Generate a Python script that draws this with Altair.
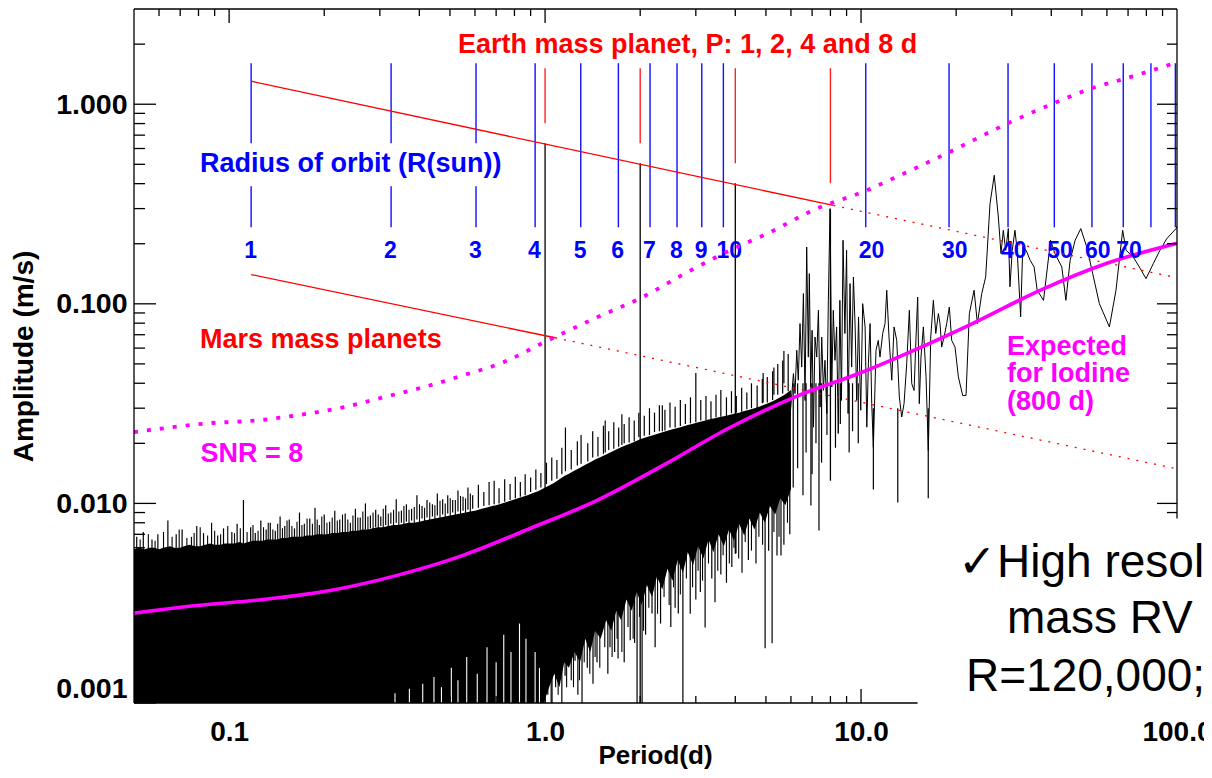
import altair as alt
import pandas as pd

FONT = "Liberation Sans"
W, H = 1043, 694
X_DOMAIN = [0.05, 100]
Y_DOMAIN = [0.001, 3.0]

# ---------------- dense periodogram band (0.05 - 6 d) ----------------
noise_P = [0.050, 0.052, 0.054, 0.056, 0.058, 0.060, 0.062, 0.065, 0.067, 0.070,
           0.072, 0.075, 0.078, 0.081, 0.084, 0.087, 0.090, 0.094, 0.097, 0.100,
           0.104, 0.108, 0.111, 0.115, 0.119, 0.123, 0.128, 0.132, 0.137, 0.142,
           0.147, 0.152, 0.158, 0.164, 0.170, 0.176, 0.183, 0.190, 0.197, 0.204,
           0.212, 0.220, 0.228, 0.237, 0.246, 0.255, 0.265, 0.275, 0.285, 0.296,
           0.307, 0.319, 0.331, 0.344, 0.357, 0.371, 0.385, 0.400, 0.415, 0.431,
           0.448, 0.465, 0.483, 0.50, 0.52, 0.54, 0.56, 0.58, 0.60, 0.63,
           0.65, 0.68, 0.70, 0.73, 0.76, 0.79, 0.82, 0.85, 0.88, 0.92,
           0.95, 0.99, 1.03, 1.07, 1.11, 1.15, 1.19, 1.24, 1.29, 1.34,
           1.39, 1.44, 1.50, 1.56, 1.62, 1.68, 1.74, 1.81, 1.88, 1.95,
           2.02, 2.10, 2.18, 2.26, 2.35, 2.44, 2.53, 2.63, 2.73, 2.83,
           2.94, 3.05, 3.17, 3.29, 3.41, 3.54, 3.68, 3.82, 3.96, 4.11,
           4.27, 4.43, 4.60, 4.78, 4.96, 5.15, 5.35, 5.55, 5.76, 6.00]
noise_hi = [0.0059, 0.0060, 0.0059, 0.0060, 0.0060, 0.0059, 0.0060, 0.0061, 0.0060, 0.0060,
            0.0061, 0.0062, 0.0061, 0.0061, 0.0062, 0.0063, 0.0062, 0.0062, 0.0063, 0.0063,
            0.0063, 0.0064, 0.0063, 0.0064, 0.0065, 0.0065, 0.0065, 0.0066, 0.0066, 0.0066,
            0.0067, 0.0067, 0.0068, 0.0068, 0.0068, 0.0069, 0.0069, 0.0070, 0.0070, 0.0070,
            0.0071, 0.0071, 0.0072, 0.0072, 0.0073, 0.0073, 0.0074, 0.0074, 0.0075, 0.0076,
            0.0076, 0.0077, 0.0078, 0.0078, 0.0079, 0.0080, 0.0080, 0.0081, 0.0082, 0.0083,
            0.0084, 0.0085, 0.0086, 0.0087, 0.0088, 0.0089, 0.0090, 0.0091, 0.0092, 0.0094,
            0.0095, 0.0097, 0.0098, 0.0100, 0.0102, 0.0104, 0.0106, 0.0108, 0.0110, 0.0113,
            0.0115, 0.0119, 0.0123, 0.0127, 0.0132, 0.0137, 0.0141, 0.0146, 0.0151, 0.0156,
            0.0161, 0.0166, 0.0171, 0.0176, 0.0181, 0.0186, 0.0191, 0.0196, 0.0201, 0.0206,
            0.0211, 0.0215, 0.0219, 0.0223, 0.0227, 0.0231, 0.0235, 0.0239, 0.0243, 0.0247,
            0.0251, 0.0255, 0.0259, 0.0263, 0.0266, 0.0270, 0.0273, 0.0277, 0.0281, 0.0285,
            0.0290, 0.0295, 0.0300, 0.0306, 0.0313, 0.0320, 0.0330, 0.0340, 0.0352, 0.0370]
noise_lo = [0.001] * 82 + [
            0.0012, 0.0014, 0.0012, 0.0016, 0.0015, 0.0018, 0.0016, 0.0021,
            0.0018, 0.0023, 0.0021, 0.0026, 0.0023, 0.0029, 0.0026, 0.0033, 0.0029, 0.0036,
            0.0031, 0.0039, 0.0034, 0.0043, 0.0037, 0.0047, 0.0041, 0.0052, 0.0045, 0.0057,
            0.0049, 0.0061, 0.0053, 0.0066, 0.0057, 0.0070, 0.0061, 0.0074, 0.0065, 0.0079,
            0.0069, 0.0084, 0.0074, 0.0090, 0.0080, 0.0097, 0.0088, 0.0106, 0.0098, 0.0118]

# hair-line spikes rising above the dense band (period, foot, tip)
up_P = [0.051, 0.0535, 0.057, 0.0595, 0.064, 0.068, 0.071, 0.076, 0.079, 0.083,
        0.088, 0.092, 0.096, 0.102, 0.106, 0.111, 0.117, 0.121, 0.126, 0.131,
        0.135, 0.140, 0.145, 0.150, 0.155, 0.161, 0.167, 0.173, 0.180, 0.187,
        0.193, 0.200, 0.208, 0.216, 0.224, 0.233, 0.242, 0.251, 0.260, 0.270,
        0.280, 0.291, 0.302, 0.313, 0.325, 0.338, 0.351, 0.364, 0.378, 0.393,
        0.408, 0.423, 0.440, 0.456, 0.474, 0.492, 0.51, 0.53, 0.55, 0.57,
        0.59, 0.615, 0.64, 0.665, 0.69, 0.715, 0.745, 0.775, 0.805, 0.835,
        0.865, 0.90, 0.935, 0.97, 1.01, 1.05, 1.09, 1.13, 1.16, 1.21,
        1.265, 1.30, 1.365, 1.415, 1.47, 1.53, 1.55, 1.59, 1.65, 1.71,
        1.75, 1.78, 1.845, 1.915, 1.98, 2.06, 2.14, 2.22, 2.30, 2.35,
        2.395, 2.485, 2.58, 2.68, 2.78, 2.885, 3.0, 3.11, 3.23, 3.35,
        3.475, 3.6, 3.75, 3.89, 4.03, 4.19, 4.35, 4.5, 4.69, 4.87,
        4.9, 5.05, 5.25, 5.3, 5.45, 5.65, 5.7, 5.88]
up_lo = [0.0058, 0.0058, 0.0058, 0.0058, 0.0060, 0.0060, 0.0060, 0.0060, 0.0060, 0.0060,
         0.0061, 0.0061, 0.0061, 0.0062, 0.0062, 0.0062, 0.0063, 0.0063, 0.0063, 0.0064,
         0.0064, 0.0065, 0.0065, 0.0066, 0.0066, 0.0067, 0.0067, 0.0068, 0.0068, 0.0069,
         0.0069, 0.0070, 0.0070, 0.0071, 0.0071, 0.0072, 0.0072, 0.0073, 0.0073, 0.0074,
         0.0075, 0.0076, 0.0077, 0.0078, 0.0079, 0.0080, 0.0080, 0.0081, 0.0082, 0.0083,
         0.0084, 0.0085, 0.0086, 0.0087, 0.0088, 0.0089, 0.0090, 0.0091, 0.0092, 0.0093,
         0.0094, 0.0095, 0.0097, 0.0098, 0.0099, 0.0100, 0.0102, 0.0104, 0.0106, 0.0108,
         0.0110, 0.0114, 0.0117, 0.0120, 0.0125, 0.0130, 0.0133, 0.0140, 0.0145, 0.0148,
         0.0155, 0.0158, 0.0162, 0.0170, 0.0172, 0.0177, 0.0180, 0.0185, 0.0188, 0.0192,
         0.0196, 0.0200, 0.0202, 0.0205, 0.0215, 0.0218, 0.0220, 0.0228, 0.0230, 0.0230,
         0.0232, 0.0240, 0.0240, 0.0244, 0.0250, 0.0252, 0.0255, 0.0260, 0.0262, 0.0264,
         0.0270, 0.0272, 0.0272, 0.0283, 0.0285, 0.0288, 0.0296, 0.0300, 0.0300, 0.0318,
         0.0320, 0.0320, 0.0330, 0.0350, 0.0350, 0.0355, 0.0400, 0.0365]
up_hi = [0.0068, 0.0072, 0.0066, 0.0070, 0.0082, 0.0070, 0.0074, 0.0068, 0.0077, 0.0071,
         0.0080, 0.0069, 0.0075, 0.0072, 0.0079, 0.0104, 0.0076, 0.0071, 0.0082, 0.0074,
         0.0080, 0.0073, 0.0086, 0.0077, 0.0083, 0.0075, 0.0090, 0.0079, 0.0084, 0.0095,
         0.0078, 0.0088, 0.0081, 0.0092, 0.0083, 0.0089, 0.0080, 0.0094, 0.0085, 0.0100,
         0.0087, 0.0093, 0.0086, 0.0098, 0.0090, 0.0105, 0.0092, 0.0099, 0.0094, 0.0110,
         0.0097, 0.0104, 0.0099, 0.0112, 0.0105, 0.0110, 0.0104, 0.0116, 0.0108, 0.0120,
         0.0110, 0.0124, 0.0114, 0.0128, 0.0130, 0.0119, 0.0132, 0.0125, 0.0136, 0.0128,
         0.0140, 0.0135, 0.0148, 0.0142, 0.0160, 0.0170, 0.0165, 0.0190, 0.0240, 0.0185,
         0.0205, 0.0220, 0.0200, 0.0230, 0.0215, 0.0245, 0.0260, 0.0230, 0.0255, 0.0240,
         0.0280, 0.0250, 0.0270, 0.0260, 0.0285, 0.0275, 0.0300, 0.0285, 0.0310, 0.0310,
         0.0295, 0.0320, 0.0305, 0.0330, 0.0315, 0.0340, 0.0450, 0.0330, 0.0345, 0.0325,
         0.0350, 0.0370, 0.0340, 0.0365, 0.0345, 0.0380, 0.0360, 0.0400, 0.0390, 0.0420,
         0.0450, 0.0430, 0.0460, 0.0480, 0.0500, 0.0520, 0.0580, 0.0560]

# smaller hair-lines in between (period, tip); they start inside the band
up2_P = [0.0523, 0.0555, 0.0583, 0.062, 0.066, 0.0695, 0.0735, 0.0775, 0.081, 0.0855,
         0.090, 0.094, 0.099, 0.104, 0.1085, 0.114, 0.119, 0.1235, 0.1285, 0.133,
         0.1375, 0.1425, 0.1475, 0.1525, 0.158, 0.164, 0.170, 0.1765, 0.1835, 0.190,
         0.1965, 0.204, 0.212, 0.220, 0.2285, 0.2375, 0.2465, 0.2555, 0.265, 0.275,
         0.2855, 0.2965, 0.3075, 0.319, 0.3315, 0.3445, 0.3575, 0.371, 0.3855, 0.4005,
         0.4155, 0.4315, 0.448, 0.465, 0.483, 0.501, 0.52, 0.54, 0.56, 0.58]
up2_hi = [0.0066, 0.0070, 0.0065, 0.0072, 0.0068, 0.0074, 0.0067, 0.0071, 0.0076, 0.0069,
          0.0073, 0.0070, 0.0077, 0.0071, 0.0075, 0.0072, 0.0078, 0.0073, 0.0076, 0.0080,
          0.0074, 0.0079, 0.0075, 0.0082, 0.0077, 0.0081, 0.0078, 0.0084, 0.0079, 0.0083,
          0.0086, 0.0080, 0.0085, 0.0082, 0.0088, 0.0083, 0.0087, 0.0085, 0.0091, 0.0086,
          0.0090, 0.0088, 0.0094, 0.0089, 0.0093, 0.0091, 0.0097, 0.0093, 0.0096, 0.0099,
          0.0095, 0.0101, 0.0098, 0.0103, 0.0100, 0.0106, 0.0104, 0.0109, 0.0106, 0.0112]
up2_foot = 0.005

# hair-line spikes dropping below the dense band (period, bottom, top)
down_P = [0.916, 0.985, 1.02, 1.052, 1.08, 1.107, 1.13, 1.157, 1.21, 1.244,
          1.27, 1.309, 1.36, 1.418, 1.46, 1.515, 1.58, 1.605, 1.66, 1.702,
          1.78, 1.86, 1.92, 1.955, 2.028, 2.08, 2.18, 2.23, 2.32, 2.43,
          2.50, 2.58, 2.64, 2.73, 2.88, 3.00, 3.10, 3.21, 3.37, 3.45,
          3.60, 3.75, 3.90, 4.02, 4.20, 4.40, 4.65, 4.97, 5.10, 5.23,
          5.42, 5.58, 5.70, 5.95, 6.10, 6.30, 6.55, 6.70, 6.94, 7.00,
          7.20, 7.36, 7.50, 7.80, 8.30, 8.60, 9.17, 9.40, 9.80, 10.94,
          13.07, 16.32]
down_lo = [0.001, 0.001, 0.0011, 0.001, 0.0012, 0.00141, 0.001, 0.00137, 0.0013, 0.00163,
           0.0011, 0.001, 0.0015, 0.00125, 0.0016, 0.00239, 0.0014, 0.0019, 0.0018, 0.00167,
           0.0016, 0.00206, 0.0020, 0.001, 0.001, 0.0022, 0.00281, 0.0019, 0.0025, 0.0053,
           0.0024, 0.0030, 0.00281, 0.001, 0.0028, 0.0033, 0.0036, 0.00239, 0.00421, 0.0032,
           0.0044, 0.0040, 0.0048, 0.00562, 0.0045, 0.0052, 0.0050, 0.00188, 0.0058, 0.00199,
           0.00549, 0.00549, 0.0062, 0.0070, 0.012, 0.015, 0.011, 0.018, 0.00977, 0.014,
           0.020, 0.00732, 0.016, 0.022, 0.019, 0.025, 0.018, 0.023, 0.020, 0.01175,
           0.0101, 0.0106]
down_hi = [0.010] * 22 + [0.012] * 12 + [0.015] * 10 + [0.020] * 10 + [0.040] * 15 + [0.030] * 3

down2_P = [1.045, 1.10, 1.17, 1.23, 1.285, 1.33, 1.385, 1.44, 1.49, 1.545,
           1.63, 1.69, 1.75, 1.83, 1.90, 1.99, 2.05, 2.13, 2.27, 2.38,
           2.47, 2.55, 2.68, 2.80, 2.93, 3.05, 3.15, 3.29, 3.52, 3.66,
           3.83, 3.96, 4.10, 4.30, 4.50, 4.75, 4.88, 5.30, 5.50, 5.85]
down2_lo = [0.0010, 0.0011, 0.0012, 0.0012, 0.0013, 0.0016, 0.0014, 0.0017, 0.0015, 0.0019,
            0.0017, 0.0021, 0.0018, 0.0024, 0.0021, 0.0027, 0.0023, 0.0030, 0.0028, 0.0034,
            0.0031, 0.0038, 0.0035, 0.0042, 0.0038, 0.0046, 0.0041, 0.0050, 0.0046, 0.0055,
            0.0050, 0.0060, 0.0053, 0.0064, 0.0058, 0.0068, 0.0062, 0.0072, 0.0068, 0.0080]
down2_top = 0.011

# thin white gaps at the foot of the band (period, gap top)
gap_P = [0.335, 0.372, 0.41, 0.445, 0.47, 0.505, 0.53, 0.565, 0.61, 0.655,
         0.70, 0.74, 0.78, 0.83, 0.87, 0.93, 0.96]
gap_top = [0.00112, 0.00118, 0.00125, 0.00135, 0.0012, 0.0015, 0.0013, 0.0017, 0.0014, 0.0019,
           0.0016, 0.0022, 0.0018, 0.0025, 0.0021, 0.0018, 0.0015]

# sparse part of the periodogram (6 - 100 d)
rv_P = [5.96, 6.11, 6.18, 6.26, 6.33, 6.41, 6.49, 6.57, 6.65, 6.73,
        6.81, 6.86, 6.93, 7.00, 7.07, 7.15, 7.24, 7.33, 7.42, 7.51,
        7.60, 7.69, 7.79, 7.88, 7.98, 8.08, 8.17, 8.27, 8.37, 8.47,
        8.57, 8.67, 8.77, 8.89, 9.00, 9.10, 9.23, 9.34, 9.46, 9.58,
        9.69, 9.82, 9.93,
        9.98, 10.12, 10.30, 10.43, 10.55, 10.68, 10.81, 10.94, 11.15, 11.34,
        11.48, 11.71, 11.91, 12.06, 12.26, 12.51, 12.72, 12.97, 13.22, 13.45,
        13.68, 13.95, 14.22, 14.47, 14.72, 14.93, 15.11, 15.29, 15.48, 15.75,
        16.06, 16.33, 16.62, 16.94, 17.24, 17.57, 17.78, 18.00, 18.31, 18.67,
        19.03, 19.36, 19.84, 20.32, 20.98, 21.49, 22.02, 22.79, 23.35, 24.1,
        24.8, 25.6, 26.4, 27.2, 27.73, 28.2, 28.7, 29.25, 29.6, 30.1,
        30.7, 31.2, 32.0, 32.5, 33.3, 34.3, 35.3, 36.1, 37.8, 38.9,
        39.8, 41.1, 43.2, 44.5, 45.9, 47.6, 49.6, 51.8, 54.1, 56.8,
        61.1, 64.1, 67.3, 69.0, 72.7, 76.0, 79.8, 84.1, 88.3, 92.8,
        99.3, 100.0]
rv_A = [0.0271, 0.0447, 0.0355, 0.0585, 0.0414, 0.0796, 0.0482, 0.1125, 0.0328, 0.1926,
        0.0541, 0.1417, 0.0383, 0.0737, 0.0241, 0.0682, 0.0541, 0.0928, 0.0304, 0.0682,
        0.0368, 0.0521, 0.0282, 0.1041, 0.300, 0.0383, 0.0928, 0.0521, 0.0766, 0.0224,
        0.1041, 0.0328, 0.2081, 0.0710, 0.1854, 0.0282, 0.1263, 0.0482, 0.1363, 0.0766,
        0.0328, 0.0859, 0.0383,
        0.0293, 0.1002, 0.0766, 0.0241, 0.0501, 0.0796, 0.0316, 0.0191, 0.0585, 0.0656,
        0.0541, 0.0710, 0.0796, 0.1169, 0.0682, 0.0414, 0.0766, 0.0656, 0.0341, 0.0271,
        0.0316, 0.0501, 0.0928, 0.0398, 0.0368, 0.0682, 0.1082, 0.0316, 0.0541, 0.0766,
        0.0431, 0.0184, 0.0682, 0.1041, 0.0710, 0.0894, 0.0796, 0.0607, 0.0682, 0.0796,
        0.0964, 0.0656, 0.0607, 0.0431, 0.0347, 0.0347, 0.0894, 0.1169, 0.0796, 0.1125,
        0.1363, 0.3177, 0.4406, 0.2722, 0.1784, 0.2336, 0.1854, 0.2381, 0.1217, 0.1854,
        0.2336, 0.1854, 0.0859, 0.1926, 0.1854, 0.1652, 0.1530, 0.1169, 0.1041, 0.1530,
        0.2081, 0.1784, 0.1530, 0.1041, 0.1652, 0.2081, 0.2381, 0.1926, 0.1417, 0.1002,
        0.0766, 0.1169, 0.2336, 0.1854, 0.1717, 0.1530, 0.1337, 0.1588, 0.1854, 0.2120,
        0.2381, 0.245]

# injected Earth-mass signals (1, 2, 4, 8 d)
planet_P = [1.0, 2.0, 4.0, 8.0]
planet_top = [0.638, 0.506, 0.402, 0.298]
planet_bot = [0.001, 0.001, 0.0056, 0.013]

# expected noise (solid) and SNR = 8 threshold (dotted)
exp_P = [0.05, 0.0792, 0.1281, 0.2087, 0.3401, 0.5500, 0.8966, 1.461, 2.362, 3.849,
         6.272, 9.93, 13.98, 22.62, 36.86, 60.05, 100.0]
exp_A = [0.00282, 0.00308, 0.00330, 0.00366, 0.00436, 0.00549, 0.00749, 0.01035, 0.0155, 0.0240,
         0.0345, 0.0450, 0.0565, 0.0799, 0.1168, 0.1596, 0.201]
snr_P = [0.05, 0.0618, 0.0852, 0.1227, 0.1714, 0.2295, 0.3072, 0.4111, 0.5500, 0.7365,
         1.0, 1.461, 2.0, 2.814, 3.849, 5.152, 7.049, 10.44, 13.29, 18.99,
         29.19, 40.8, 53.8, 67.5, 100.0]
snr_A = [0.02278, 0.02377, 0.02518, 0.02606, 0.02793, 0.03029, 0.03399, 0.03815, 0.04382, 0.05089,
         0.0645, 0.0856, 0.1066, 0.1438, 0.1854, 0.2283, 0.2942, 0.3706, 0.4406, 0.5745,
         0.8030, 1.012, 1.203, 1.335, 1.62]

# planet amplitude lines: solid where detectable, dotted beyond
earth_P = [0.1174, 8.17, 100.0]
earth_A = [1.304, 0.311, 0.1351]
mars_P = [0.1174, 1.076, 100.0]
mars_A = [0.1401, 0.0676, 0.0149]

# Earth planet period markers
mark_P = [1.0, 2.0, 4.0, 8.0]
mark_top = [1.515, 1.515, 1.515, 1.515]
mark_bot = [0.803, 0.638, 0.506, 0.402]

# orbit radius (R_sun) markers
orbit_R = ["1", "2", "3", "4", "5", "6", "7", "8", "9", "10",
           "20", "30", "40", "50", "60", "70", "80", "90"]
orbit_P = [0.1174, 0.3256, 0.6046, 0.930, 1.297, 1.706, 2.149, 2.616, 3.133, 3.667,
           10.35, 18.99, 29.19, 40.9, 53.8, 67.6, 82.7, 98.8]
orbit_top, orbit_bot = 1.605, 0.2417
orbit_gap = (0.638, 0.388)
orbit_label_A = 0.169

# axis ticks
x_labels = [0.1, 1.0, 10.0, 100.0]
y_labels = [0.001, 0.01, 0.1, 1.0]
x_major = [0.1, 1.0, 10.0]
x_minor = [0.06, 0.07, 0.08, 0.09, 0.2, 0.3, 0.4, 0.5, 0.6, 0.7, 0.8, 0.9,
           2, 3, 4, 5, 6, 7, 8, 9, 20, 30, 40, 50, 60, 70, 80, 90]
y_major = [0.001, 0.01, 0.1, 1.0]
y_minor = [0.002, 0.003, 0.004, 0.005, 0.006, 0.007, 0.008, 0.009,
           0.02, 0.03, 0.04, 0.05, 0.06, 0.07, 0.08, 0.09,
           0.2, 0.3, 0.4, 0.5, 0.6, 0.7, 0.8, 0.9, 2.0]
bottom_axis_end = 15.1      # bottom frame hidden beyond this (covered by slide text)
right_axis_end = 0.0084     # right frame hidden below this

# ---------------- scales / axes ----------------
xs = alt.Scale(type="log", domain=X_DOMAIN)
ys = alt.Scale(type="log", domain=Y_DOMAIN)
xaxis = alt.Axis(values=x_labels, labelExpr="format(datum.value, '.1f')",
                 labelFont=FONT, labelFontSize=28, labelFontWeight="bold", labelColor="black",
                 labelPadding=37, labelBaseline="alphabetic", labelFlush=False, labelOverlap=False,
                 ticks=False, tickSize=0, domain=False, grid=False,
                 title="Period(d)", titleFont=FONT, titleFontSize=26, titleFontWeight="bold",
                 titleColor="black", titleX=521, titleY=60, titleBaseline="alphabetic",
                 titleAlign="center")
yaxis = alt.Axis(values=y_labels, format=".3f",
                 labelFont=FONT, labelFontSize=28.5, labelFontWeight="bold", labelColor="black",
                 labelPadding=7, labelFlush=True, labelOverlap=False,
                 ticks=False, tickSize=0, domain=False, grid=False,
                 title="Amplitude (m/s)", titleFont=FONT, titleFontSize=28, titleFontWeight="bold",
                 titleColor="black", titleX=-110, titleY=347, titleAngle=270,
                 titleBaseline="middle", titleAlign="center")


def X(f):
    return alt.X(f"{f}:Q", scale=xs, axis=xaxis)


def Y(f):
    return alt.Y(f"{f}:Q", scale=ys, axis=yaxis)


def hairlines(df, color="black", width=1.2):
    return alt.Chart(df).mark_rule(color=color, strokeWidth=width, clip=True).encode(
        x=X("P"), y=Y("lo"), y2=alt.Y2("hi"))


layers = []

df_noise = pd.DataFrame({"P": noise_P, "hi": noise_hi, "lo": noise_lo})
layers.append(alt.Chart(df_noise).mark_area(color="black", clip=True)
              .encode(x=X("P"), y=Y("hi"), y2=alt.Y2("lo")))

layers.append(hairlines(pd.DataFrame({"P": up_P, "lo": up_lo, "hi": up_hi})))
layers.append(hairlines(pd.DataFrame({"P": up2_P, "lo": [up2_foot] * len(up2_P), "hi": up2_hi}),
                        width=1.1))
layers.append(hairlines(pd.DataFrame({"P": gap_P, "lo": [0.001] * len(gap_P), "hi": gap_top}),
                        color="white", width=1.1))
layers.append(hairlines(pd.DataFrame({"P": down_P, "lo": down_lo, "hi": down_hi})))
layers.append(hairlines(pd.DataFrame({"P": down2_P, "lo": down2_lo,
                                      "hi": [down2_top] * len(down2_P)}), width=1.1))

df_rv = pd.DataFrame({"P": rv_P, "A": rv_A})
layers.append(alt.Chart(df_rv).mark_line(color="black", strokeWidth=1, clip=True)
              .encode(x=X("P"), y=Y("A")))

df_pl = pd.DataFrame({"P": planet_P, "top": planet_top, "bot": planet_bot})
layers.append(alt.Chart(df_pl).mark_rule(color="black", strokeWidth=1.3)
              .encode(x=X("P"), y=Y("bot"), y2=alt.Y2("top")))

df_exp = pd.DataFrame({"P": exp_P, "A": exp_A})
layers.append(alt.Chart(df_exp).mark_line(color="#ff00ff", strokeWidth=3.6, interpolate="monotone", clip=True)
              .encode(x=X("P"), y=Y("A")))

# orbit lines (first three broken where the caption sits)
orb_rows = []
for i, (r, p) in enumerate(zip(orbit_R, orbit_P)):
    if i < 3:
        orb_rows.append({"P": p, "a": orbit_gap[0], "b": orbit_top})
        orb_rows.append({"P": p, "a": orbit_bot, "b": orbit_gap[1]})
    else:
        orb_rows.append({"P": p, "a": orbit_bot, "b": orbit_top})
df_orb = pd.DataFrame(orb_rows)
layers.append(alt.Chart(df_orb).mark_rule(color="#1010ff", strokeWidth=1.4)
              .encode(x=X("P"), y=Y("a"), y2=alt.Y2("b")))

df_orl = pd.DataFrame({"P": orbit_P[:16], "A": [orbit_label_A] * 16, "t": orbit_R[:16]})
layers.append(alt.Chart(df_orl).mark_text(align="left", baseline="alphabetic", dx=-7, font=FONT,
                                          fontSize=23, fontWeight="bold", color="#0000ff")
              .encode(x=X("P"), y=Y("A"), text="t:N"))

# red planet lines
df_red_solid = pd.DataFrame({"P": earth_P[:2] + mars_P[:2], "A": earth_A[:2] + mars_A[:2],
                             "s": ["e", "e", "m", "m"]})
df_red_dot = pd.DataFrame({"P": earth_P[1:] + mars_P[1:], "A": earth_A[1:] + mars_A[1:],
                           "s": ["e", "e", "m", "m"]})
layers.append(alt.Chart(df_red_solid).mark_line(color="#ff0000", strokeWidth=1.3)
              .encode(x=X("P"), y=Y("A"), detail="s:N"))
layers.append(alt.Chart(df_red_dot).mark_line(color="#ff0000", strokeWidth=1.3, strokeDash=[2, 7])
              .encode(x=X("P"), y=Y("A"), detail="s:N"))

df_mk = pd.DataFrame({"P": mark_P, "top": mark_top, "bot": mark_bot})
layers.append(alt.Chart(df_mk).mark_rule(color="#ff2020", strokeWidth=1.4)
              .encode(x=X("P"), y=Y("bot"), y2=alt.Y2("top")))

df_snr = pd.DataFrame({"P": snr_P, "A": snr_A})
layers.append(alt.Chart(df_snr).mark_line(color="#ff00ff", strokeWidth=3.8, strokeDash=[4, 9],
                                          interpolate="monotone", clip=True)
              .encode(x=X("P"), y=Y("A")))

# annotation texts
ann_text = ["Earth mass planet, P: 1, 2, 4 and 8 d", "Radius of orbit (R(sun))",
            "Mars mass planets", "SNR = 8", "Expected", "for Iodine", "(800 d)"]
ann_P = [2.825, 0.0809, 0.0809, 0.0812, 28.97, 28.97, 28.97]
ann_A = [1.80, 0.456, 0.0598, 0.01605, 0.0557, 0.0405, 0.0295]
ann_color = ["#ff0000", "#0000ff", "#ff0000", "#ff00ff", "#ff00ff", "#ff00ff", "#ff00ff"]
ann_align = ["center", "left", "left", "left", "left", "left", "left"]
for t, p, a, c, al in zip(ann_text, ann_P, ann_A, ann_color, ann_align):
    d = pd.DataFrame({"P": [p], "A": [a], "t": [t]})
    layers.append(alt.Chart(d).mark_text(align=al, baseline="alphabetic", font=FONT, fontSize=27,
                                         fontWeight="bold", color=c)
                  .encode(x=X("P"), y=Y("A"), text="t:N"))

# frame
df_frame = pd.DataFrame({
    "x1": [X_DOMAIN[0], X_DOMAIN[0], X_DOMAIN[0], X_DOMAIN[1]],
    "x2": [X_DOMAIN[1], X_DOMAIN[0], bottom_axis_end, X_DOMAIN[1]],
    "y1": [Y_DOMAIN[1], Y_DOMAIN[0], Y_DOMAIN[0], right_axis_end],
    "y2": [Y_DOMAIN[1], Y_DOMAIN[1], Y_DOMAIN[0], Y_DOMAIN[1]],
})
layers.append(alt.Chart(df_frame).mark_rule(color="black", strokeWidth=1.3)
              .encode(x=X("x1"), x2=alt.X2("x2"), y=Y("y1"), y2=alt.Y2("y2")))


def yticks(vals, x0, x1):
    d = pd.DataFrame({"v": vals})
    return alt.Chart(d).mark_rule(color="black", strokeWidth=1.3).encode(
        y=Y("v"), x=alt.value(x0), x2=alt.value(x1))


def xticks(vals, y0, y1):
    d = pd.DataFrame({"v": vals})
    return alt.Chart(d).mark_rule(color="black", strokeWidth=1.3).encode(
        x=X("v"), y=alt.value(y0), y2=alt.value(y1))


layers.append(yticks(y_major, 0, 22))
layers.append(yticks(y_minor, 0, 11))
layers.append(yticks([v for v in y_major if v >= right_axis_end], W, W - 20))
layers.append(yticks([v for v in y_minor if v >= right_axis_end], W, W - 10))
layers.append(xticks(x_major, 0, 14))
layers.append(xticks(x_minor, 0, 7))
layers.append(xticks([v for v in x_major if v <= bottom_axis_end], H, H - 14))
layers.append(xticks([v for v in x_minor if v <= bottom_axis_end], H, H - 7))

# slide text overlapping the plot
slide_text = ["\u2713High resolution", "mass RV", "R=120,000;"]
slide_P = [20.28, 28.97, 21.49]
slide_A = [0.004257, 0.002231, 0.001155]
df_slide = pd.DataFrame({"P": slide_P, "A": slide_A, "t": slide_text})
layers.append(alt.Chart(df_slide).mark_text(align="left", baseline="alphabetic", font=FONT,
                                            fontSize=46, color="black")
              .encode(x=X("P"), y=Y("A"), text="t:N"))

chart = alt.layer(*layers).properties(
    width=W, height=H,
    autosize=alt.AutoSizeParams(type="none"),
    padding={"left": 126, "top": 1, "right": 27, "bottom": 67},
    background="white",
).configure_view(stroke=None)

chart.save("out.html", embed_options={"renderer": "svg", "actions": False})
